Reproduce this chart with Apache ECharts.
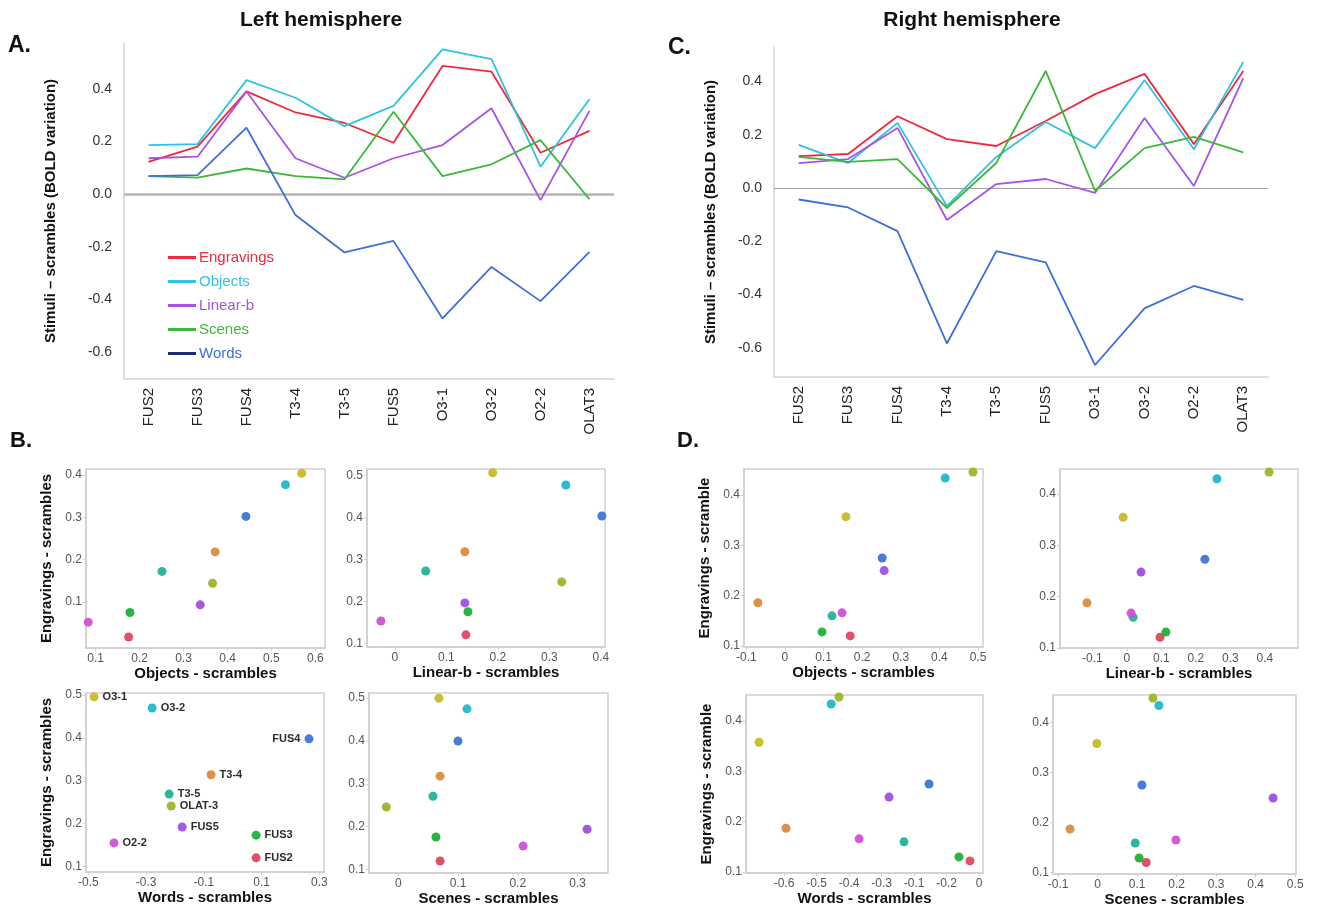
<!DOCTYPE html>
<html>
<head>
<meta charset="utf-8">
<script src="https://cdn.jsdelivr.net/npm/echarts@6/dist/echarts.min.js"></script>
<style>
html, body { margin: 0; padding: 0; background: #fff; }
#main { width: 1317px; height: 909px; }
</style>
</head>
<body>
<div id="main"></div>
<script>
const FONT = '"Liberation Sans", Arial, sans-serif'

const regions = ['FUS2', 'FUS3', 'FUS4', 'T3-4', 'T3-5', 'FUS5', 'O3-1', 'O3-2', 'O2-2', 'OLAT3']
const regionLabels = ['FUS2', 'FUS3', 'FUS4', 'T3-4', 'T3-5', 'FUS5', 'O3-1', 'O3-2', 'O2-2', 'OLAT-3']
const regionColors = ['#e0475e', '#1fb03a', '#3f74d6', '#dd8a3f', '#22b39a', '#a050e0', '#c8bb2a', '#20b8c8', '#d050d8', '#9db52a']

const stimuli = ['Engravings', 'Objects', 'Linear-b', 'Scenes', 'Words']
const stimulusColors = ['#ee2a3c', '#2ec3e0', '#a653e6', '#3cb83c', '#3d6fdc']
const legendIconColors = ['#ee2a3c', '#2ec3e0', '#a653e6', '#3cb83c', '#1c2a78']

// A. left hemisphere (stimuli - scrambles)
const leftEngravings = [0.122, 0.18, 0.39, 0.31, 0.27, 0.195, 0.487, 0.465, 0.157, 0.24]
const leftObjects = [0.186, 0.19, 0.433, 0.366, 0.258, 0.335, 0.55, 0.513, 0.104, 0.361]
const leftLinearB = [0.136, 0.142, 0.39, 0.136, 0.062, 0.136, 0.186, 0.326, -0.023, 0.316]
const leftScenes = [0.068, 0.062, 0.097, 0.068, 0.056, 0.313, 0.068, 0.113, 0.205, -0.02]
const leftWords = [0.068, 0.072, 0.252, -0.08, -0.222, -0.178, -0.473, -0.277, -0.407, -0.22]

// C. right hemisphere
const rightEngravings = [0.12, 0.128, 0.27, 0.184, 0.158, 0.252, 0.353, 0.429, 0.165, 0.44]
const rightObjects = [0.162, 0.094, 0.245, -0.068, 0.117, 0.248, 0.15, 0.406, 0.146, 0.474]
const rightLinearB = [0.094, 0.109, 0.226, -0.12, 0.015, 0.034, -0.018, 0.263, 0.008, 0.413]
const rightScenes = [0.117, 0.098, 0.109, -0.075, 0.094, 0.44, -0.011, 0.15, 0.192, 0.134]
const rightWords = [-0.043, -0.073, -0.162, -0.584, -0.237, -0.279, -0.665, -0.452, -0.368, -0.42]

const lineYTicks = [-0.6, -0.4, -0.2, 0, 0.2, 0.4]

// B. left hemisphere scatter plots (x per region, y per region)
const b1X = [0.175, 0.178, 0.442, 0.372, 0.251, 0.338, 0.569, 0.532, 0.083, 0.366]
const b1Y = [0.017, 0.075, 0.302, 0.218, 0.172, 0.093, 0.404, 0.377, 0.052, 0.144]
const b2X = [0.138, 0.142, 0.402, 0.136, 0.06, 0.136, 0.19, 0.332, -0.027, 0.324]
const b2Y = [0.121, 0.176, 0.404, 0.319, 0.273, 0.197, 0.507, 0.478, 0.154, 0.247]
const b3X = [0.081, 0.081, 0.264, -0.075, -0.22, -0.175, -0.48, -0.279, -0.411, -0.213]
const b3Y = [0.12, 0.173, 0.398, 0.314, 0.269, 0.192, 0.496, 0.47, 0.155, 0.241]
const b4X = [0.07, 0.063, 0.1, 0.07, 0.058, 0.316, 0.068, 0.115, 0.209, -0.02]
const b4Y = [0.12, 0.176, 0.4, 0.318, 0.271, 0.194, 0.5, 0.475, 0.155, 0.246]

// D. right hemisphere scatter plots
const d1X = [0.169, 0.096, 0.252, -0.07, 0.122, 0.257, 0.158, 0.415, 0.148, 0.487]
const d1Y = [0.12, 0.128, 0.275, 0.186, 0.16, 0.25, 0.357, 0.434, 0.166, 0.446]
const d2X = [0.096, 0.113, 0.226, -0.116, 0.018, 0.041, -0.011, 0.261, 0.012, 0.412]
const d2Y = [0.121, 0.131, 0.273, 0.188, 0.16, 0.248, 0.355, 0.43, 0.168, 0.443]
const d3X = [-0.028, -0.062, -0.154, -0.594, -0.231, -0.277, -0.677, -0.455, -0.369, -0.431]
const d3Y = [0.122, 0.13, 0.275, 0.187, 0.16, 0.249, 0.358, 0.434, 0.166, 0.448]
const d4X = [0.123, 0.105, 0.112, -0.07, 0.095, 0.444, -0.002, 0.155, 0.198, 0.14]
const d4Y = [0.12, 0.129, 0.275, 0.187, 0.159, 0.249, 0.358, 0.434, 0.165, 0.449]

// tick labels
const b1XTicks = [0.1, 0.2, 0.3, 0.4, 0.5, 0.6]
const b1YTicks = [0.1, 0.2, 0.3, 0.4]
const b2XTicks = [0, 0.1, 0.2, 0.3, 0.4]
const b3XTicks = [-0.5, -0.3, -0.1, 0.1, 0.3]
const b4XTicks = [0, 0.1, 0.2, 0.3]
const bYTicks = [0.1, 0.2, 0.3, 0.4, 0.5]
const dXTicks = [-0.1, 0, 0.1, 0.2, 0.3, 0.4, 0.5]
const dYTicks = [0.1, 0.2, 0.3, 0.4]
const d3XTicks = [-0.6, -0.5, -0.4, -0.3, -0.2, -0.1, 0]
const d3XTickLabels = ['-0.6', '-0.5', '-0.4', '-0.3', '-0.1', '-0.2', '0']

const labelFor = (ticks, labels) => (v) => {
    const i = ticks.findIndex((t) => Math.abs(t - v) < 1e-9)
    if (labels && i >= 0) return labels[i]
    return v === 0 ? '0' : String(v)
}

const chart = echarts.init(document.getElementById('main'))

// grids: 0 = A, 1 = C, 2..5 = B1..B4, 6..9 = D1..D4
const grids = [
    { left: 124, top: 43, width: 490, height: 336 },
    { left: 774, top: 47, width: 494, height: 330 },
    { left: 86, top: 469, width: 239, height: 179 },
    { left: 367, top: 469, width: 238, height: 178 },
    { left: 86, top: 693, width: 238, height: 179 },
    { left: 369, top: 693, width: 239, height: 180 },
    { left: 744, top: 469, width: 239, height: 178 },
    { left: 1060, top: 469, width: 238, height: 179 },
    { left: 746, top: 695, width: 237, height: 178 },
    { left: 1053, top: 695, width: 243, height: 179 },
]

const lineYName = 'Stimuli \u2013 scrambles (BOLD variation)'

const lineXAxis = (gridIndex) => ({
    type: 'category',
    gridIndex,
    data: regions,
    boundaryGap: true,
    axisTick: { show: false },
    axisLine: { onZero: false, lineStyle: { color: '#d4d4d4', width: 1.5 } },
    axisLabel: { rotate: 90, color: '#222', fontSize: 15, fontFamily: FONT, margin: 9 },
})

const lineYAxis = (gridIndex, min, max, nameGap) => ({
    type: 'value',
    gridIndex,
    min,
    max,
    name: lineYName,
    nameLocation: 'middle',
    nameGap,
    nameTextStyle: { color: '#111', fontSize: 15, fontWeight: 'bold', fontFamily: FONT },
    splitLine: { show: false },
    axisTick: { show: false },
    axisLine: { show: true, onZero: false, lineStyle: { color: '#d4d4d4', width: 1.5 } },
    axisLabel: {
        customValues: lineYTicks,
        color: '#333',
        fontSize: 14,
        fontFamily: FONT,
        margin: 12,
        formatter: (v) => v.toFixed(1),
    },
})

const scatterXAxis = (gridIndex, min, max, ticks, name, labels) => ({
    type: 'value',
    gridIndex,
    min,
    max,
    name,
    nameLocation: 'middle',
    nameGap: 17,
    nameTextStyle: { color: '#111', fontSize: 15, fontWeight: 'bold', fontFamily: FONT },
    splitLine: { show: false },
    axisLine: { onZero: false, lineStyle: { color: '#cfcfcf', width: 1.5 } },
    axisTick: { customValues: ticks, length: 3, lineStyle: { color: '#cfcfcf' } },
    axisLabel: {
        customValues: ticks,
        color: '#555',
        fontSize: 12,
        fontFamily: FONT,
        margin: 5,
        formatter: labelFor(ticks, labels),
    },
})

const scatterYAxis = (gridIndex, min, max, ticks, name) => ({
    type: 'value',
    gridIndex,
    min,
    max,
    name,
    nameLocation: 'middle',
    nameGap: 32,
    nameTextStyle: { color: '#111', fontSize: 15, fontWeight: 'bold', fontFamily: FONT },
    splitLine: { show: false },
    axisLine: { show: true, onZero: false, lineStyle: { color: '#cfcfcf', width: 1.5 } },
    axisTick: { customValues: ticks, length: 3, lineStyle: { color: '#cfcfcf' } },
    axisLabel: {
        customValues: ticks,
        color: '#555',
        fontSize: 12,
        fontFamily: FONT,
        margin: 4,
        formatter: labelFor(ticks),
    },
})

const xAxis = [
    lineXAxis(0),
    lineXAxis(1),
    scatterXAxis(2, 0.078, 0.622, b1XTicks, 'Objects - scrambles'),
    scatterXAxis(3, -0.054, 0.408, b2XTicks, 'Linear-b - scrambles'),
    scatterXAxis(4, -0.508, 0.316, b3XTicks, 'Words - scrambles'),
    scatterXAxis(5, -0.049, 0.351, b4XTicks, 'Scenes - scrambles'),
    scatterXAxis(6, -0.106, 0.513, dXTicks, 'Objects - scrambles'),
    scatterXAxis(7, -0.194, 0.496, dXTicks, 'Linear-b - scrambles'),
    scatterXAxis(8, -0.717, 0.012, d3XTicks, 'Words - scrambles', d3XTickLabels),
    scatterXAxis(9, -0.113, 0.502, dXTicks, 'Scenes - scrambles'),
]

const yAxis = [
    lineYAxis(0, -0.703, 0.574, 66),
    lineYAxis(1, -0.71, 0.53, 56),
    scatterYAxis(2, -0.009, 0.414, b1YTicks, 'Engravings - scrambles'),
    scatterYAxis(3, 0.092, 0.516, bYTicks, ''),
    scatterYAxis(4, 0.087, 0.505, bYTicks, 'Engravings - scrambles'),
    scatterYAxis(5, 0.092, 0.512, bYTicks, ''),
    scatterYAxis(6, 0.098, 0.452, dYTicks, 'Engravings - scramble'),
    scatterYAxis(7, 0.1, 0.449, dYTicks, ''),
    scatterYAxis(8, 0.098, 0.452, dYTicks, 'Engravings - scramble'),
    scatterYAxis(9, 0.097, 0.455, dYTicks, ''),
]

const leftLines = [leftEngravings, leftObjects, leftLinearB, leftScenes, leftWords]
const rightLines = [rightEngravings, rightObjects, rightLinearB, rightScenes, rightWords]

const lineSeries = (values, axisIndex, zeroStyle) =>
    values.map((data, i) => ({
        type: 'line',
        name: stimuli[i],
        xAxisIndex: axisIndex,
        yAxisIndex: axisIndex,
        data,
        symbol: 'none',
        silent: true,
        lineStyle: { color: stimulusColors[i], width: 1.8 },
        itemStyle: { color: stimulusColors[i] },
        z: 3,
        markLine: i === 0 ? {
            silent: true,
            symbol: 'none',
            label: { show: false },
            lineStyle: Object.assign({ type: 'solid' }, zeroStyle),
            data: [{ yAxis: 0 }],
            z: 1,
        } : undefined,
    }))

const scatterSeries = (axisIndex, xs, ys, withLabels) => ({
    type: 'scatter',
    xAxisIndex: axisIndex,
    yAxisIndex: axisIndex,
    symbolSize: 9,
    silent: true,
    data: xs.map((x, i) => ({
        name: regionLabels[i],
        value: [x, ys[i]],
        itemStyle: { color: regionColors[i], opacity: 0.95 },
        label: withLabels ? {
            show: true,
            position: regions[i] === 'FUS4' ? 'left' : 'right',
            distance: 4,
            formatter: '{b}',
            color: '#222',
            fontSize: 11,
            fontWeight: 'bold',
            fontFamily: FONT,
        } : undefined,
    })),
})

const series = [
    ...lineSeries(leftLines, 0, { color: '#b4b4b4', width: 2.5 }),
    ...lineSeries(rightLines, 1, { color: '#a0a0a0', width: 1.2 }),
    scatterSeries(2, b1X, b1Y),
    scatterSeries(3, b2X, b2Y),
    scatterSeries(4, b3X, b3Y, true),
    scatterSeries(5, b4X, b4Y),
    scatterSeries(6, d1X, d1Y),
    scatterSeries(7, d2X, d2Y),
    scatterSeries(8, d3X, d3Y),
    scatterSeries(9, d4X, d4Y),
]

const text = (str, x, y, size, align) => ({
    type: 'text',
    x,
    y,
    silent: true,
    style: {
        text: str,
        fill: '#111',
        font: `bold ${size}px ${FONT}`,
        textAlign: align || 'left',
        textVerticalAlign: 'middle',
    },
})

const option = {
    animation: false,
    backgroundColor: '#fff',
    grid: grids.map((g, i) =>
        Object.assign({}, g, i >= 2 ? { show: true, borderColor: '#cfcfcf', borderWidth: 1.5 } : {}),
    ),
    xAxis,
    yAxis,
    legend: {
        orient: 'vertical',
        left: 163,
        top: 245,
        icon: 'rect',
        itemWidth: 28,
        itemHeight: 3,
        itemGap: 9,
        selectedMode: false,
        textStyle: { fontSize: 15, fontFamily: FONT, padding: [0, 0, 0, -2] },
        data: stimuli.map((name, i) => ({
            name,
            itemStyle: { color: legendIconColors[i] },
            textStyle: { color: stimulusColors[i] },
        })),
    },
    graphic: [
        text('Left hemisphere', 321, 20, 21, 'center'),
        text('Right hemisphere', 972, 20, 21, 'center'),
        text('A.', 8, 46, 23),
        text('C.', 668, 48, 23),
        text('B.', 10, 441, 22),
        text('D.', 677, 441, 22),
    ],
    series,
}

chart.setOption(option)
</script>
</body>
</html>
